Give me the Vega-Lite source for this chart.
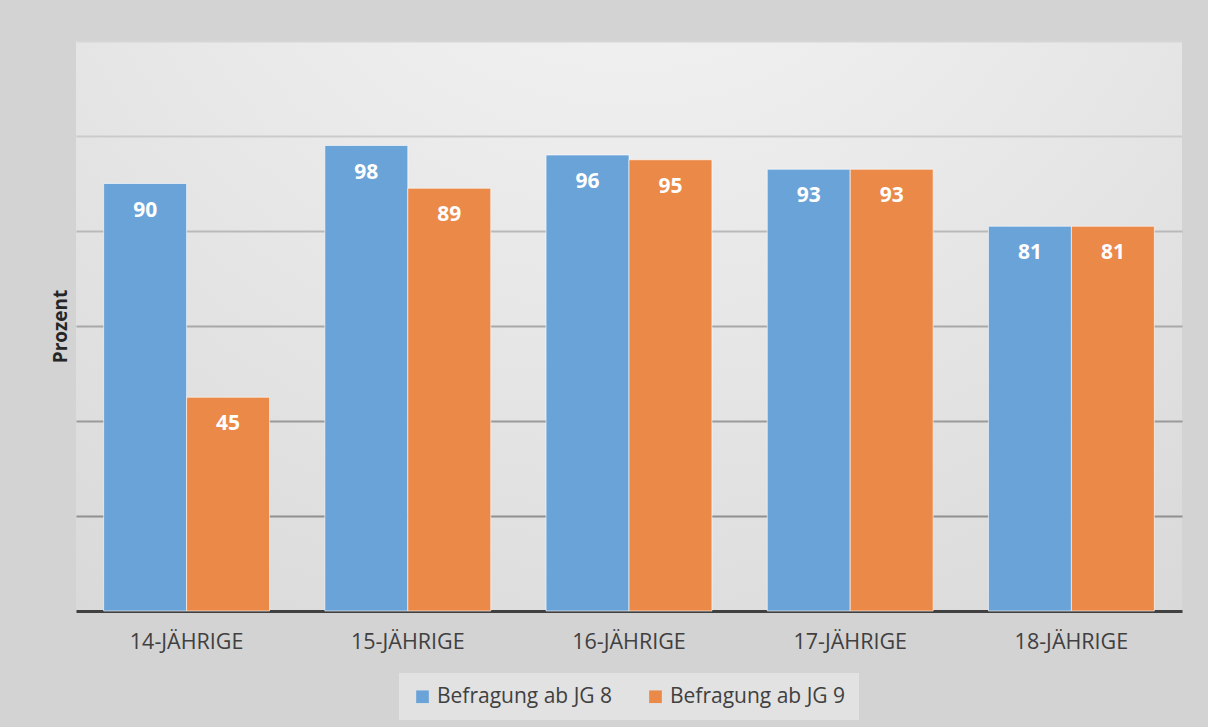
{
  "$schema": "https://vega.github.io/schema/vega-lite/v6.json",
  "width": 1106,
  "height": 570,
  "autosize": {"type": "none"},
  "padding": {"left": 76, "top": 41, "right": 26, "bottom": 116},
  "background": "#d3d3d3",
  "config": {
    "view": {
      "stroke": null,
      "fill": {
        "gradient": "radial",
        "x1": 0.5, "y1": 0.0, "r1": 0,
        "x2": 0.5, "y2": 0.0, "r2": 1.05,
        "stops": [
          {"offset": 0, "color": "#f7f7f7"},
          {"offset": 0.5, "color": "#e6e6e6"},
          {"offset": 1, "color": "#d4d4d4"}
        ]
      }
    },
    "font": "Open Sans",
    "legend": {"layout": {"bottom": {"anchor": "middle"}}}
  },
  "data": {
    "values": [
      {"gruppe": "14-JÄHRIGE", "serie": "Befragung ab JG 8", "prozent": 90},
      {"gruppe": "14-JÄHRIGE", "serie": "Befragung ab JG 9", "prozent": 45},
      {"gruppe": "15-JÄHRIGE", "serie": "Befragung ab JG 8", "prozent": 98},
      {"gruppe": "15-JÄHRIGE", "serie": "Befragung ab JG 9", "prozent": 89},
      {"gruppe": "16-JÄHRIGE", "serie": "Befragung ab JG 8", "prozent": 96},
      {"gruppe": "16-JÄHRIGE", "serie": "Befragung ab JG 9", "prozent": 95},
      {"gruppe": "17-JÄHRIGE", "serie": "Befragung ab JG 8", "prozent": 93},
      {"gruppe": "17-JÄHRIGE", "serie": "Befragung ab JG 9", "prozent": 93},
      {"gruppe": "18-JÄHRIGE", "serie": "Befragung ab JG 8", "prozent": 81},
      {"gruppe": "18-JÄHRIGE", "serie": "Befragung ab JG 9", "prozent": 81}
    ]
  },
  "encoding": {
    "x": {
      "field": "gruppe",
      "type": "nominal",
      "sort": null,
      "scale": {"paddingInner": 0.25, "paddingOuter": 0.125},
      "axis": {
        "title": null,
        "labelAngle": 0,
        "labelFontSize": 21.5,
        "labelColor": "#404040",
        "labelPadding": 20,
        "ticks": false,
        "domainColor": "#404040",
        "domainWidth": 3,
        "grid": false
      }
    },
    "xOffset": {"field": "serie", "type": "nominal", "scale": {"paddingInner": 0, "paddingOuter": 0}},
    "y": {
      "field": "prozent",
      "type": "quantitative",
      "scale": {"domain": [0, 120], "nice": false},
      "axis": {
        "title": "Prozent",
        "titleFontSize": 19,
        "titleFontWeight": "bold",
        "titleColor": "#262626",
        "titlePadding": 6,
        "labels": false,
        "ticks": false,
        "domain": false,
        "values": [20, 40, 60, 80, 100, 120],
        "gridWidth": 2,
        "gridColor": {
          "condition": [
            {"test": "datum.value >= 120", "value": "#d6d6d6"},
            {"test": "datum.value >= 100", "value": "#cbcbcb"},
            {"test": "datum.value >= 80", "value": "#b9b9b9"},
            {"test": "datum.value >= 60", "value": "#a8a8a8"},
            {"test": "datum.value >= 40", "value": "#9a9a9a"}
          ],
          "value": "#909090"
        }
      }
    }
  },
  "layer": [
    {
      "mark": {"type": "bar", "stroke": "#ffffff", "strokeWidth": 1, "strokeOpacity": 0.6},
      "encoding": {
        "color": {
          "field": "serie",
          "type": "nominal",
          "scale": {"domain": ["Befragung ab JG 8", "Befragung ab JG 9"], "range": ["#6aa3d8", "#ea8948"]},
          "legend": {
            "title": null,
            "orient": "bottom",
            "direction": "horizontal",
            "symbolType": "square",
            "symbolSize": 160,
            "symbolStrokeWidth": 0,
            "labelFontSize": 21,
            "labelColor": "#404040",
            "labelLimit": 300,
            "columnPadding": 32,
            "padding": 13,
            "offset": 20,
            "fillColor": "#e2e2e2"
          }
        }
      }
    },
    {
      "mark": {"type": "text", "baseline": "middle", "dy": 27, "fontSize": 21, "fontWeight": "bold", "color": "#ffffff"},
      "encoding": {"text": {"field": "prozent", "type": "quantitative"}}
    }
  ]
}
